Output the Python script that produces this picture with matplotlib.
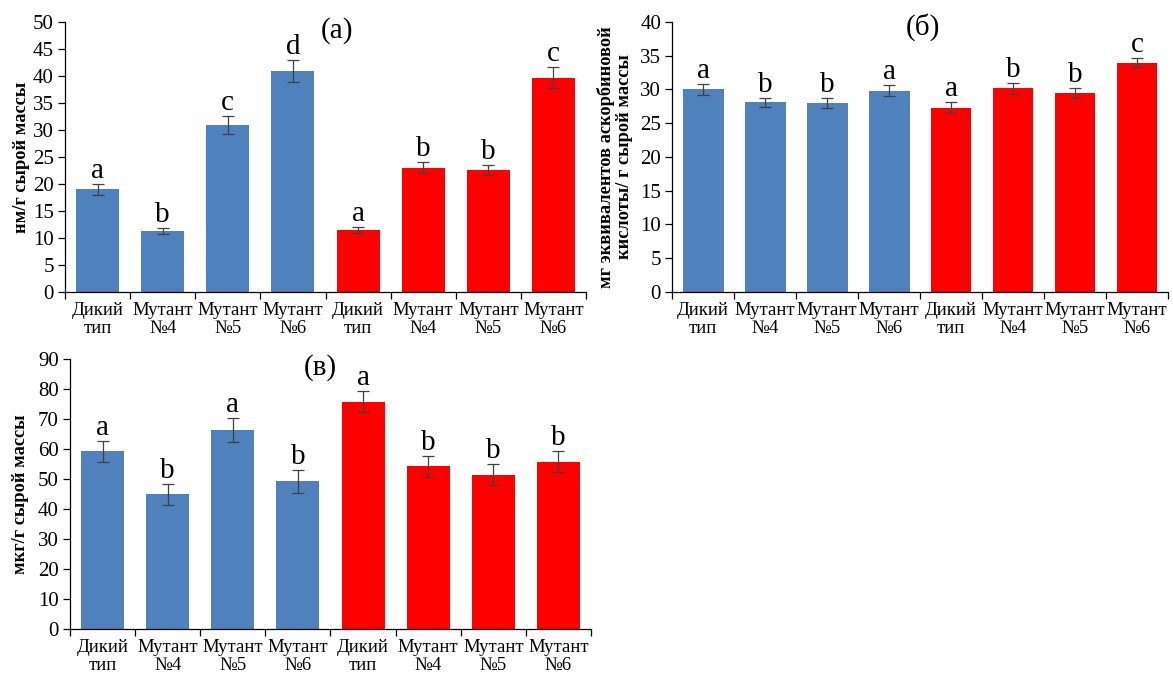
import matplotlib.pyplot as plt
import numpy as np

plt.rcParams['font.family'] = ['Liberation Serif', 'DejaVu Serif']

categories = ['Дикий\nтип', 'Мутант\n№4', 'Мутант\n№5', 'Мутант\n№6',
              'Дикий\nтип', 'Мутант\n№4', 'Мутант\n№5', 'Мутант\n№6']

# (а) нм/г сырой массы
a_values = [19.0, 11.3, 30.9, 40.9, 11.5, 23.0, 22.6, 39.7]
a_errors = [1.0, 0.6, 1.6, 2.0, 0.6, 1.0, 1.0, 2.0]
a_letters = ['a', 'b', 'c', 'd', 'a', 'b', 'b', 'c']

# (б) мг эквивалентов аскорбиновой кислоты
b_values = [30.0, 28.1, 28.0, 29.8, 27.3, 30.2, 29.5, 34.0]
b_errors = [0.8, 0.7, 0.8, 0.8, 0.8, 0.8, 0.7, 0.7]
b_letters = ['a', 'b', 'b', 'a', 'a', 'b', 'b', 'c']

# (в) мкг/г сырой массы
c_values = [59.3, 45.0, 66.3, 49.2, 75.7, 54.3, 51.5, 55.8]
c_errors = [3.5, 3.5, 4.0, 3.7, 3.5, 3.5, 3.6, 3.5]
c_letters = ['a', 'b', 'a', 'b', 'a', 'b', 'b', 'b']

colors = ['#4F81BD'] * 4 + ['#FF0000'] * 4


def draw_panel(ax, values, errors, letters, ymax, ystep, ylabel, title, title_xy):
    x = np.arange(len(values))
    ax.bar(x, values, width=0.66, color=colors, edgecolor='none', zorder=2)
    ax.errorbar(x, values, yerr=errors, fmt='none', ecolor='#404040',
                elinewidth=0.9, capsize=4, capthick=0.9, zorder=3)
    for xi, v, e, t in zip(x, values, errors, letters):
        ax.annotate(t, (xi, v + e), xytext=(0, 0), textcoords='offset points',
                    ha='center', va='bottom', fontsize=21)
    ax.set_xlim(-0.5, len(values) - 0.5)
    ax.set_ylim(0, ymax)
    ax.set_yticks(np.arange(0, ymax + 1, ystep))
    ax.set_xticks(x)
    ax.set_xticklabels(categories, fontsize=13.5, linespacing=1.1)
    ax.set_xticks(np.arange(-0.5, len(values), 1), minor=True)
    ax.tick_params(axis='x', which='major', length=0, pad=7)
    ax.tick_params(axis='x', which='minor', length=5, direction='out', width=0.9)
    ax.tick_params(axis='y', labelsize=15, length=5, width=0.9, pad=3)
    for s in ['top', 'right']:
        ax.spines[s].set_visible(False)
    for s in ['left', 'bottom']:
        ax.spines[s].set_linewidth(0.9)
    ax.set_ylabel(ylabel, fontsize=13.2, fontweight='bold', linespacing=1.1,
                  va='center')
    ax.text(title_xy[0], title_xy[1], title, transform=ax.transAxes,
            fontsize=21, ha='center', va='center')


fig = plt.figure(figsize=(11.73, 6.77), dpi=100)
ax_a = fig.add_axes([0.0554, 0.5687, 0.4442, 0.3988])
ax_b = fig.add_axes([0.5730, 0.5687, 0.4227, 0.3988])
ax_c = fig.add_axes([0.0597, 0.0709, 0.4441, 0.3988])

draw_panel(ax_a, a_values, a_errors, a_letters, 50, 5,
           'нм/г сырой массы', '(a)', (0.522, 0.97))
draw_panel(ax_b, b_values, b_errors, b_letters, 40, 5,
           'мг эквивалентов аскорбиновой\nкислоты/ г сырой массы', '(б)', (0.506, 0.98))
draw_panel(ax_c, c_values, c_errors, c_letters, 90, 10,
           'мкг/г сырой массы', '(в)', (0.48, 0.967))

ax_a.yaxis.set_label_coords(-0.083, 0.5)
ax_b.yaxis.set_label_coords(-0.115, 0.5)
ax_c.yaxis.set_label_coords(-0.096, 0.5)

fig.savefig('out.png', dpi=100)
